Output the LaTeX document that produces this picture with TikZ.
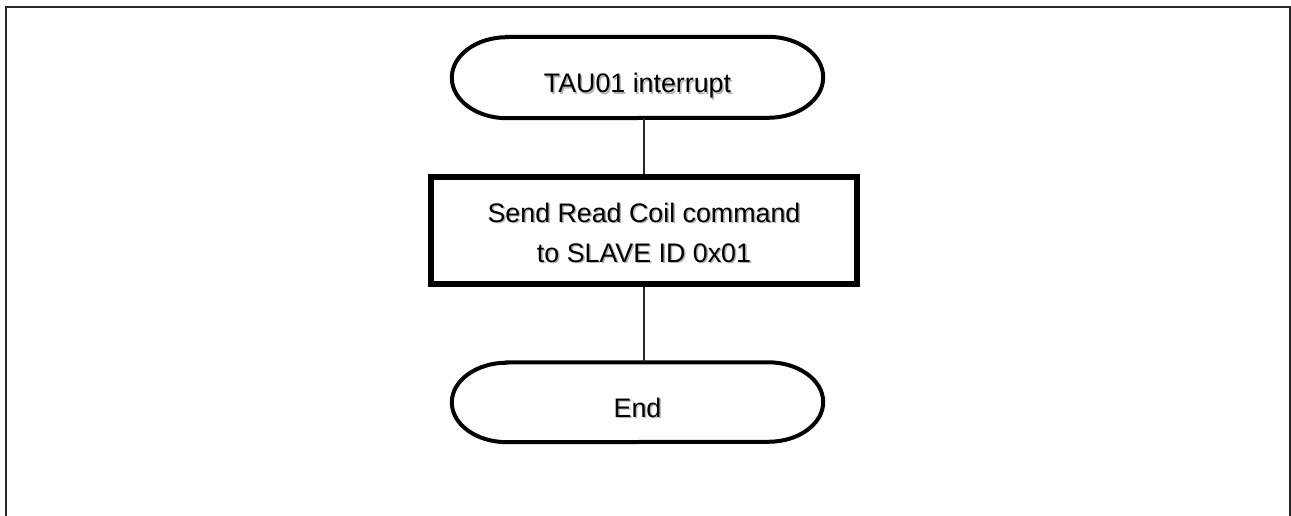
\documentclass[tikz,border=0pt]{standalone}
\usepackage{fontspec}
\setmainfont{Liberation Sans}
\begin{document}
\begin{tikzpicture}[x=1pt,y=1pt,
  frameline/.style={line width=2pt,draw=black!85},
  termshape/.style={draw=none,inner sep=0pt,minimum width=371pt},
  termline/.style={line width=4pt,draw=black},
  procbox/.style={draw=black,line width=5.5pt,inner sep=0pt,minimum width=426pt,minimum height=107pt},
  conn/.style={line width=1.6pt,draw=black!85},
  txt/.style={font=\fontsize{26.8}{40}\selectfont,inner sep=0pt,align=center,text=black},
  txtshadow/.style={txt,text=black!30}
]
\useasboundingbox (0,0) rectangle (1291,-516);
\fill[white] (0,0) rectangle (1291,-516);
% frame
\draw[frameline] (6,-516) -- (6,-7) -- (1289.5,-7) -- (1289.5,-516);

% shapes
\node[termshape,minimum height=81pt] (t1) at (637.5,-77.5) {};
\node[procbox] (r) at (644,-230.5) {};
\node[termshape,minimum height=79.5pt] (t2) at (637.5,-402.25) {};

\draw[termline] ([xshift=55pt]t1.north west) -- ([xshift=-55pt]t1.north east)
  arc[start angle=90,end angle=-90,x radius=55pt,y radius=40.5pt]
  -- ([xshift=55pt]t1.south west)
  arc[start angle=270,end angle=90,x radius=55pt,y radius=40.5pt] -- cycle;
\draw[termline] ([xshift=55pt]t2.north west) -- ([xshift=-55pt]t2.north east)
  arc[start angle=90,end angle=-90,x radius=55pt,y radius=39.75pt]
  -- ([xshift=55pt]t2.south west)
  arc[start angle=270,end angle=90,x radius=55pt,y radius=39.75pt] -- cycle;

% connectors
\draw[conn] (r.north |- t1.south) -- (r.north);
\draw[conn] (r.south) -- (r.south |- t2.north);

% texts
\node[txtshadow,anchor=base] (t1s) at ([shift={(1.5pt,-17pt)}]t1.center) {TAU01 interrupt};
\node[txt,anchor=base] (t1t) at ([yshift=-15.5pt]t1.center) {TAU01 interrupt};
\node[txtshadow] (rs) at ([shift={(1.5pt,-3.5pt)}]r.center) {Send Read Coil command\\to SLAVE ID 0x01};
\node[txt] (rt) at ([yshift=-2pt]r.center) {Send Read Coil command\\to SLAVE ID 0x01};
\node[txtshadow,anchor=base] (t2s) at ([shift={(1.5pt,-16.25pt)}]t2.center) {End};
\node[txt,anchor=base] (t2t) at ([yshift=-14.75pt]t2.center) {End};
\end{tikzpicture}
\end{document}
